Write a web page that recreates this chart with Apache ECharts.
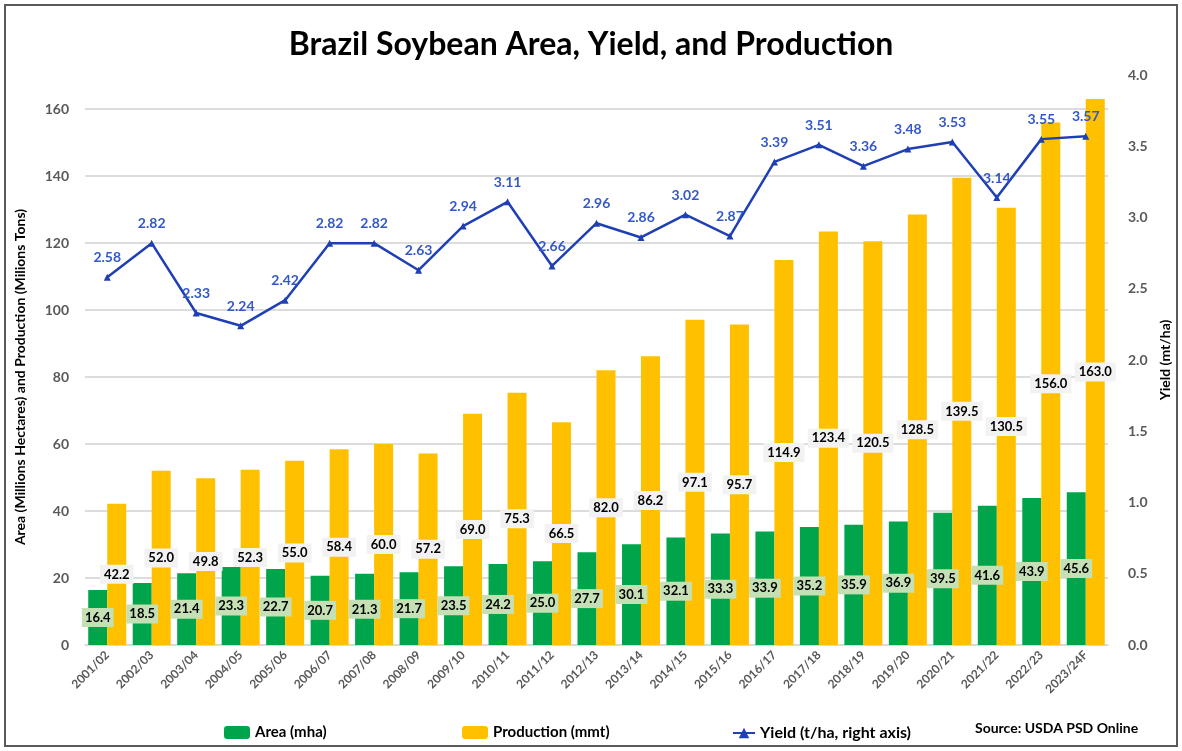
<!DOCTYPE html>
<html>
<head>
<meta charset="utf-8">
<script src="https://cdn.jsdelivr.net/npm/echarts@6/dist/echarts.min.js"></script>
<style>html,body{margin:0;padding:0;background:#fff}#c{width:1182px;height:751px}</style>
</head>
<body>
<div id="c"></div>
<script>
const categories = ['2001/02','2002/03','2003/04','2004/05','2005/06','2006/07','2007/08','2008/09','2009/10','2010/11','2011/12','2012/13','2013/14','2014/15','2015/16','2016/17','2017/18','2018/19','2019/20','2020/21','2021/22','2022/23','2023/24F'];
const area = [16.4,18.5,21.4,23.3,22.7,20.7,21.3,21.7,23.5,24.2,25.0,27.7,30.1,32.1,33.3,33.9,35.2,35.9,36.9,39.5,41.6,43.9,45.6];
const production = [42.2,52.0,49.8,52.3,55.0,58.4,60.0,57.2,69.0,75.3,66.5,82.0,86.2,97.1,95.7,114.9,123.4,120.5,128.5,139.5,130.5,156.0,163.0];
const yieldVals = [2.58,2.82,2.33,2.24,2.42,2.82,2.82,2.63,2.94,3.11,2.66,2.96,2.86,3.02,2.87,3.39,3.51,3.36,3.48,3.53,3.14,3.55,3.57];

const FONT = 'Lato';
const chart = echarts.init(document.getElementById('c'));
chart.setOption({
  animation: false,
  backgroundColor: '#fff',
  textStyle: { fontFamily: FONT },
  title: {
    text: 'Brazil Soybean Area, Yield, and Production',
    left: 'center', top: 24,
    textStyle: { fontFamily: FONT, fontSize: 32, fontWeight: 'bold', color: '#000' }
  },
  graphic: [
    { type: 'rect', shape: { x: 5, y: 5, width: 1172, height: 741 }, style: { fill: 'none', stroke: '#595959', lineWidth: 2 }, silent: true },
    { type: 'text', left: 975, top: 721, style: { text: 'Source: USDA PSD Online', font: 'bold 14px ' + FONT, fill: '#000' } }
  ],
  legend: [
    { data: ['Area (mha)'], left: 219, top: 720, itemWidth: 26, itemHeight: 13, textStyle: { fontFamily: FONT, fontSize: 15, fontWeight: 'bold', color: '#000' } },
    { data: ['Production (mmt)'], left: 457, top: 720, itemWidth: 26, itemHeight: 13, textStyle: { fontFamily: FONT, fontSize: 15, fontWeight: 'bold', color: '#000' } },
    { data: ['Yield (t/ha, right axis)'], left: 727, top: 720, itemWidth: 22, itemHeight: 13, textStyle: { fontFamily: FONT, fontSize: 16, fontWeight: 'bold', color: '#000' } }
  ],
  grid: [
    { left: 85, right: 74, top: 109, bottom: 106 },
    { left: 85, right: 74, top: 75, bottom: 106 }
  ],
  xAxis: [
    {
      type: 'category', gridIndex: 0, data: categories,
      axisLine: { lineStyle: { color: '#d9d9d9', width: 1.5 } },
      axisTick: { show: false },
      axisLabel: { rotate: 45, interval: 0, fontFamily: FONT, fontSize: 12, fontWeight: 'bold', color: '#595959', margin: 8 }
    },
    { type: 'category', gridIndex: 1, data: categories, show: false }
  ],
  yAxis: [
    {
      type: 'value', gridIndex: 0, min: 0, max: 160, interval: 20,
      name: 'Area (Millions Hectares) and Production (Milions Tons)',
      nameLocation: 'middle', nameGap: 58, nameRotate: 90,
      nameTextStyle: { fontFamily: FONT, fontSize: 14, fontWeight: 'bold', color: '#000' },
      axisLine: { show: false }, axisTick: { show: false },
      axisLabel: { fontFamily: FONT, fontSize: 14, fontWeight: 'bold', color: '#595959', margin: 16 },
      splitLine: { lineStyle: { color: '#d0d0d0', width: 1.5 } }
    },
    {
      type: 'value', gridIndex: 1, position: 'right', min: 0, max: 4, interval: 0.5,
      name: 'Yield (mt/ha)', nameLocation: 'middle', nameGap: 44, nameRotate: 90,
      nameTextStyle: { fontFamily: FONT, fontSize: 14, fontWeight: 'bold', color: '#000' },
      axisLine: { show: false }, axisTick: { show: false },
      axisLabel: { fontFamily: FONT, fontSize: 14, fontWeight: 'bold', color: '#595959', margin: 20, formatter: v => v.toFixed(1) },
      splitLine: { show: false }
    }
  ],
  series: [
    {
      name: 'Area (mha)', type: 'bar', xAxisIndex: 0, yAxisIndex: 0, data: area,
      barWidth: 19, barGap: '0%', clip: false,
      itemStyle: { color: '#00A44A' },
      label: { show: true, position: 'inside', formatter: p => p.value.toFixed(1), fontFamily: FONT, fontSize: 13, fontWeight: 'bold', color: '#000', backgroundColor: '#c5e0b4', padding: [3, 3] }
    },
    {
      name: 'Production (mmt)', type: 'bar', xAxisIndex: 0, yAxisIndex: 0, data: production,
      barWidth: 19, barGap: '0%', clip: false,
      itemStyle: { color: '#FFC000' },
      label: { show: true, position: 'inside', formatter: p => p.value.toFixed(1), fontFamily: FONT, fontSize: 13, fontWeight: 'bold', color: '#000', backgroundColor: '#f2f2f2', padding: [3, 4] }
    },
    {
      name: 'Yield (t/ha, right axis)', type: 'line', xAxisIndex: 1, yAxisIndex: 1, data: yieldVals,
      symbol: 'triangle', symbolSize: 7,
      lineStyle: { color: '#1f3fb4', width: 2.5 },
      itemStyle: { color: '#1f3fb4' },
      label: { show: true, position: 'top', distance: 9, formatter: p => p.value.toFixed(2), fontFamily: FONT, fontSize: 14, fontWeight: 'bold', color: '#3358c8' }
    }
  ]
});
</script>
</body>
</html>
